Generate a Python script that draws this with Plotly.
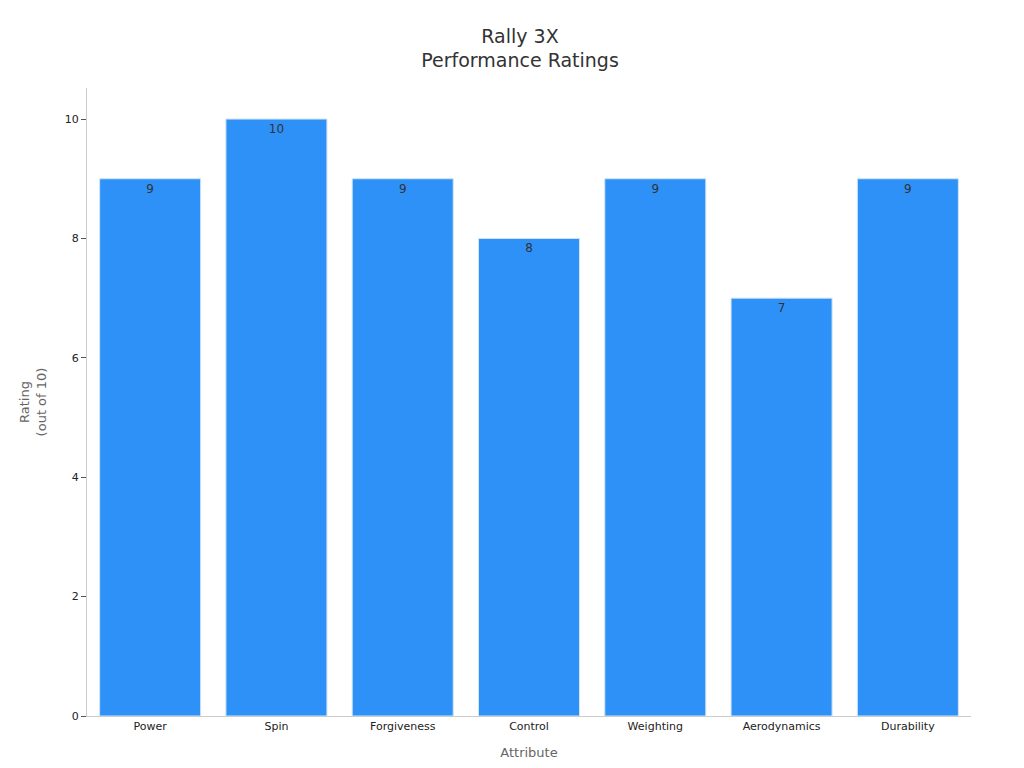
import plotly.graph_objects as go

categories = ["Power", "Spin", "Forgiveness", "Control", "Weighting", "Aerodynamics", "Durability"]
ratings = [9, 10, 9, 8, 9, 7, 9]

fig = go.Figure(go.Bar(
    x=categories, y=ratings, text=[str(v) for v in ratings],
    textposition="inside", insidetextanchor="end",
    textfont=dict(color="#333333", size=12),
    marker=dict(color="#2e91f8", line=dict(color="#d0e4f7", width=1)),
    width=0.8,
))
fig.update_layout(
    width=1024, height=768,
    paper_bgcolor="white", plot_bgcolor="white",
    font=dict(family="DejaVu Sans", color="#333333"),
    title=dict(text="Rally 3X<br>Performance Ratings", x=0.5, xanchor="center", y=0.955,
               font=dict(size=19, color="#333333")),
    margin=dict(l=79, r=61, t=80, b=60),
    xaxis=dict(title=dict(text="Attribute", font=dict(size=13, color="#666666")),
               showline=True, linecolor="#cccccc", ticks="", tickfont=dict(size=11, color="#222222")),
    yaxis=dict(title=dict(text="Rating<br>(out of 10)", font=dict(size=13, color="#666666")),
               range=[0, 10.52], dtick=2, showgrid=False, zeroline=False,
               showline=True, linecolor="#cccccc", ticks="outside", ticklen=5, tickcolor="#555555",
               tickfont=dict(size=11, color="#222222")),
    showlegend=False,
)
fig.write_html("out.html")
